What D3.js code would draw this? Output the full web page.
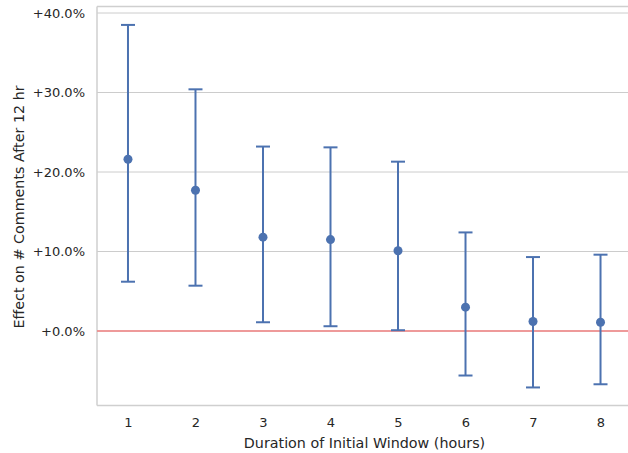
<!DOCTYPE html>
<html><head><meta charset="utf-8">
<script src="https://cdn.jsdelivr.net/npm/d3@7"></script>
<style>body{margin:0;background:#fff}svg{display:block;font-family:"DejaVu Sans",sans-serif}</style>
</head><body><svg id="c" width="628" height="453"></svg>
<script>
const categories = [1, 2, 3, 4, 5, 6, 7, 8];
const means = [21.6, 17.7, 11.8, 11.5, 10.1, 3.0, 1.2, 1.1];
const lowers = [6.2, 5.7, 1.1, 0.6, 0.1, -5.6, -7.1, -6.7];
const uppers = [38.5, 30.4, 23.2, 23.1, 21.3, 12.4, 9.3, 9.6];
const yTicks = [0, 10, 20, 30, 40];

const svg = d3.select("#c");
const L = 97, R = 631.5, T = 6.5, B = 405.5;
const x = d3.scaleLinear().domain([0.541, 8.459]).range([L, R]);
const y = d3.scaleLinear().domain([0, 40]).range([331, 13]);
const blue = "#4c72b0", txt = "#262626";

// grid
svg.append("g").selectAll("line").data(yTicks).join("line")
  .attr("x1", L).attr("x2", R).attr("y1", d => y(d)).attr("y2", d => y(d))
  .attr("stroke", "#cccccc").attr("stroke-width", 1);

// spines
svg.append("line").attr("x1", L).attr("x2", L).attr("y1", T).attr("y2", B).attr("stroke", "#cfcfcf").attr("stroke-width", 1.5);
svg.append("line").attr("x1", L).attr("x2", R).attr("y1", B).attr("y2", B).attr("stroke", "#cfcfcf").attr("stroke-width", 1.5);
svg.append("line").attr("x1", L).attr("x2", R).attr("y1", T).attr("y2", T).attr("stroke", "#cfcfcf").attr("stroke-width", 1.5);

// zero line
svg.append("line").attr("x1", L).attr("x2", R).attr("y1", y(0)).attr("y2", y(0))
  .attr("stroke", "#f08080").attr("stroke-width", 1.5);

// y axis
const fmt = d => "+" + d.toFixed(1) + "%";
const yAxis = d3.axisLeft(y).tickValues(yTicks).tickFormat(fmt).tickSize(0).tickPadding(12);
const yg = svg.append("g").attr("transform", `translate(${L},0)`).call(yAxis);
yg.select(".domain").remove();
yg.selectAll("text").attr("font-size", 13).attr("fill", txt).attr("font-family", "DejaVu Sans");

// x axis
const xAxis = d3.axisBottom(x).tickValues(categories).tickFormat(d3.format("d")).tickSize(0).tickPadding(12);
const xg = svg.append("g").attr("transform", `translate(0,${B})`).call(xAxis);
xg.select(".domain").remove();
xg.selectAll("text").attr("font-size", 13).attr("fill", txt).attr("font-family", "DejaVu Sans");

// labels
svg.append("text").attr("x", 364.5).attr("y", 447.5).attr("text-anchor", "middle")
  .attr("font-size", 14.3).attr("fill", txt).text("Duration of Initial Window (hours)");
svg.append("text").attr("transform", `translate(24,207) rotate(-90)`).attr("text-anchor", "middle")
  .attr("font-size", 14.3).attr("fill", txt).text("Effect on # Comments After 12 hr");

// error bars
const data = categories.map((c, i) => ({c, m: means[i], lo: lowers[i], hi: uppers[i]}));
const g = svg.append("g");
const cap = 7;
g.selectAll(".v").data(data).join("line")
  .attr("x1", d => x(d.c)).attr("x2", d => x(d.c)).attr("y1", d => y(d.lo)).attr("y2", d => y(d.hi))
  .attr("stroke", blue).attr("stroke-width", 2);
g.selectAll(".ct").data(data).join("line")
  .attr("x1", d => x(d.c) - cap).attr("x2", d => x(d.c) + cap).attr("y1", d => y(d.hi)).attr("y2", d => y(d.hi))
  .attr("stroke", blue).attr("stroke-width", 2);
g.selectAll(".cb").data(data).join("line")
  .attr("x1", d => x(d.c) - cap).attr("x2", d => x(d.c) + cap).attr("y1", d => y(d.lo)).attr("y2", d => y(d.lo))
  .attr("stroke", blue).attr("stroke-width", 2);
g.selectAll("circle").data(data).join("circle")
  .attr("cx", d => x(d.c)).attr("cy", d => y(d.m)).attr("r", 4.5).attr("fill", blue);
</script></body></html>
